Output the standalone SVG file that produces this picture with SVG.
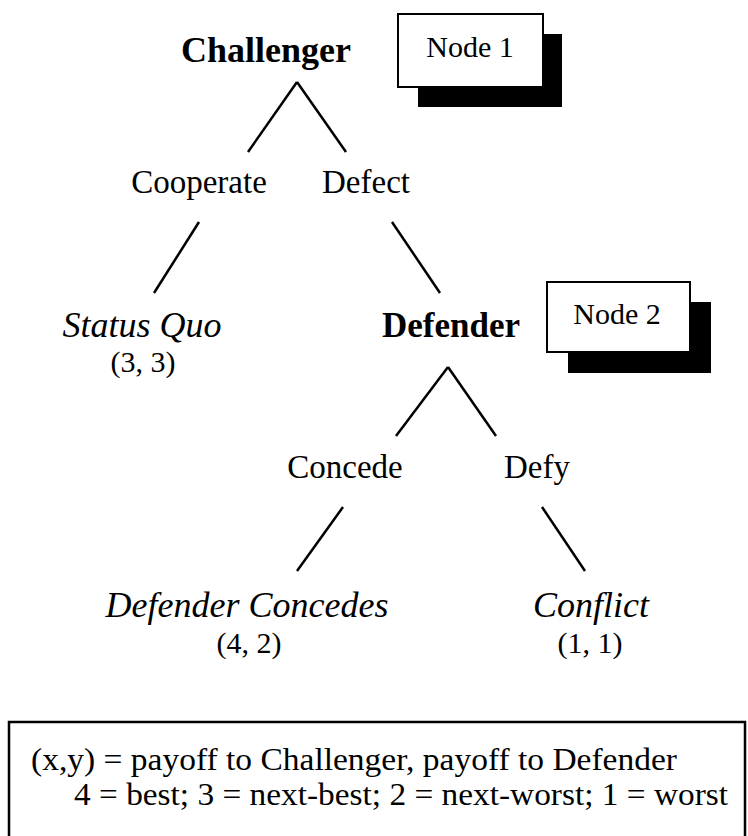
<svg xmlns="http://www.w3.org/2000/svg" width="748" height="836" viewBox="0 0 748 836">
<style>
text{font-family:"Liberation Serif","Times New Roman",serif;fill:#000}
.b{font-weight:bold;font-size:36px;text-anchor:middle}
.r{font-size:33px;text-anchor:middle}
.i{font-style:italic;font-size:36px;text-anchor:middle}
.p{font-size:30px;text-anchor:middle}
.n{font-size:30px;text-anchor:middle}
.lg{font-size:31px}
.box{fill:#fff;stroke:#000;stroke-width:2}
.sh{fill:#000}
.ln{stroke:#000;stroke-width:2.5;fill:none}
</style>
<rect width="748" height="836" fill="#fff"/>
<g id="connectors">
<line class="ln" x1="297" y1="82" x2="248" y2="152"/>
<line class="ln" x1="297" y1="82" x2="346" y2="152"/>
<line class="ln" x1="199" y1="222" x2="154" y2="293"/>
<line class="ln" x1="392" y1="222" x2="440" y2="293"/>
<line class="ln" x1="448" y1="367" x2="396" y2="436"/>
<line class="ln" x1="448" y1="367" x2="496" y2="436"/>
<line class="ln" x1="343" y1="507" x2="297" y2="571"/>
<line class="ln" x1="542" y1="507" x2="585" y2="571"/>
</g>
<g id="challenger">
<text class="b" x="266" y="62">Challenger</text>
</g>
<g id="node1-label">
<rect class="sh" x="418" y="34" width="144" height="73"/>
<rect class="box" x="398" y="14" width="145" height="73"/>
<text class="n" x="470" y="57">Node 1</text>
</g>
<g id="cooperate"><text class="r" x="199" y="193">Cooperate</text></g>
<g id="defect"><text class="r" x="366" y="193">Defect</text></g>
<g id="status-quo">
<text class="i" x="142" y="337">Status Quo</text>
<text class="p" x="143" y="372">(3, 3)</text>
</g>
<g id="defender">
<text class="b" x="451" y="337" style="font-size:35px">Defender</text>
</g>
<g id="node2-label">
<rect class="sh" x="568" y="302" width="143" height="71"/>
<rect class="box" x="547" y="282" width="143" height="70"/>
<text class="n" x="617" y="324">Node 2</text>
</g>
<g id="concede"><text class="r" x="345" y="478">Concede</text></g>
<g id="defy"><text class="r" x="537" y="478">Defy</text></g>
<g id="defender-concedes">
<text class="i" x="247" y="617">Defender Concedes</text>
<text class="p" x="249" y="653">(4, 2)</text>
</g>
<g id="conflict">
<text class="i" x="591" y="617">Conflict</text>
<text class="p" x="590" y="653">(1, 1)</text>
</g>
<g id="legend">
<rect x="9" y="722" width="736" height="140" fill="none" stroke="#000" stroke-width="2.5"/>
<text class="lg" x="31" y="770" textLength="646" lengthAdjust="spacingAndGlyphs">(x,y) = payoff to Challenger, payoff to Defender</text>
<text class="lg" x="74" y="805" textLength="654" lengthAdjust="spacingAndGlyphs">4 = best; 3 = next-best; 2 = next-worst; 1 = worst</text>
</g>
</svg>
